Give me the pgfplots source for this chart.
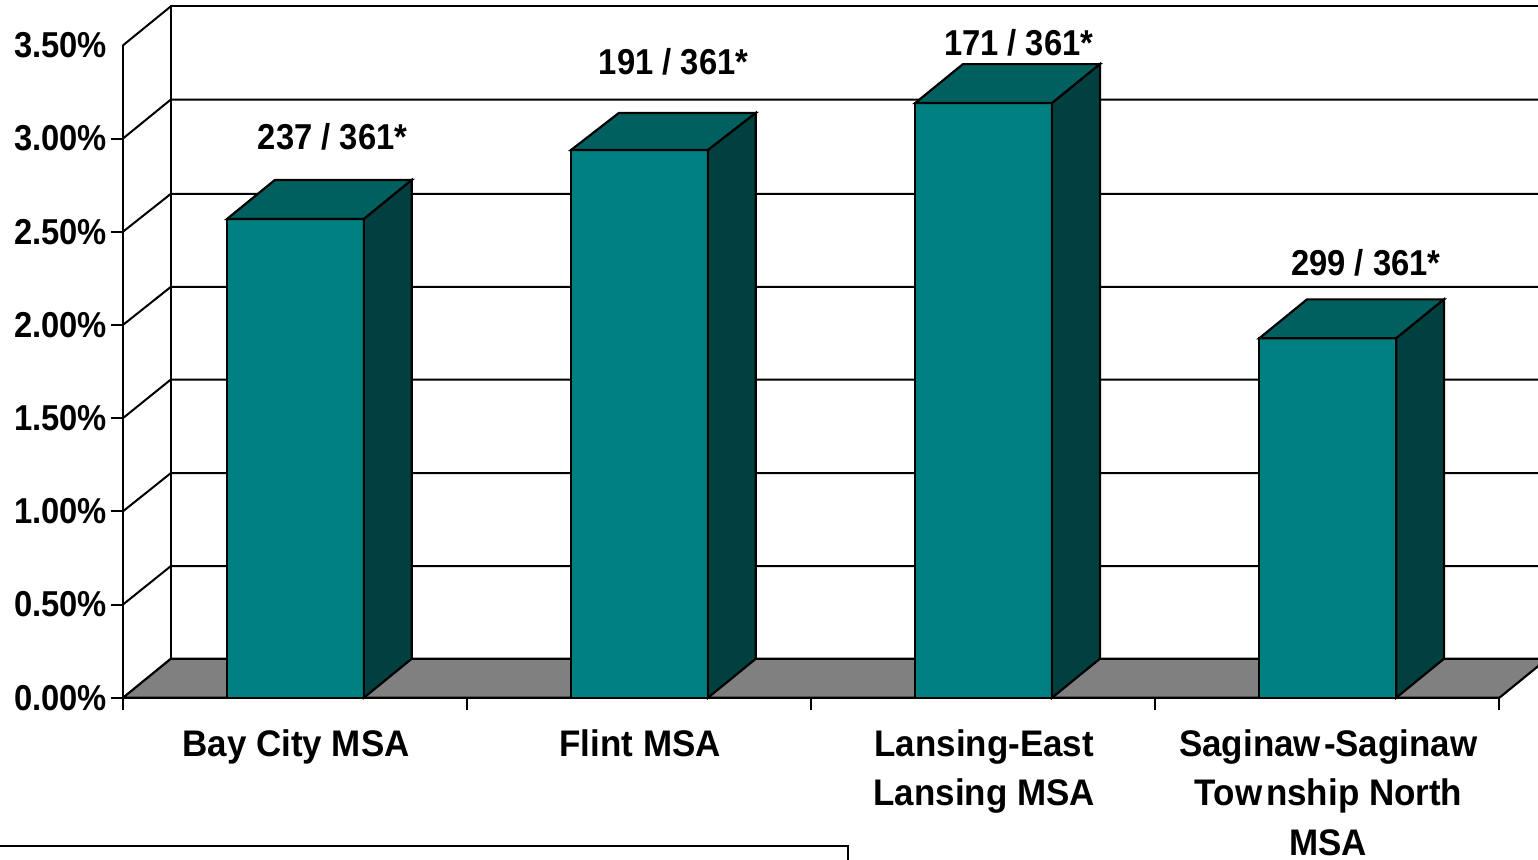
\documentclass[border=0pt]{standalone}
\usepackage{pgfplots}
\usepackage{fontspec}
\pgfplotsset{compat=1.18}
\setmainfont{Liberation Sans}
\newfontfamily\tickfont{Liberation Sans}[FakeStretch=0.91]
\newfontfamily\catfont{Liberation Sans}[FakeStretch=0.945]
\definecolor{barfront}{HTML}{008080}
\definecolor{bartop}{HTML}{006060}
\definecolor{barside}{HTML}{004040}
\definecolor{floorgray}{HTML}{808080}
\begin{document}
\begin{tikzpicture}[x=1pt,y=1pt]
\clip (0,0) rectangle (769,429.5);
\begin{axis}[
  at={(61.5pt,80.65pt)},
  anchor=south west,
  scale only axis,
  width=688.2pt,
  height=326.2pt,
  xmin=-0.5, xmax=3.5,
  ymin=0, ymax=3.5,
  clip=false,
  axis x line=bottom,
  axis y line=left,
  axis line style={-, black, line width=1pt},
  tick style={black, line width=1pt},
  tick align=outside,
  major tick length=6pt,
  minor tick length=6pt,
  xtick={0,1,2,3},
  xticklabels={Bay City MSA,Flint MSA,{Lansing-East\\Lansing MSA},{Saginaw\kern1.5pt-Saginaw\\To\kern0.6ptw\kern1.6ptnship North\\MSA}},
  minor xtick={-0.5,0.5,1.5,2.5,3.5},
  major x tick style={draw=none},
  x tick label style={font=\catfont\bfseries\fontsize{18.5}{24.7}\selectfont, align=center, anchor=north, yshift=-6.5pt, xshift=0.5pt},
  ytick={0,0.5,1,1.5,2,2.5,3},
  yticklabels={0.00\%,0.50\%,1.00\%,1.50\%,2.00\%,2.50\%,3.00\%},
  extra y ticks={3.5},
  extra y tick labels={3.50\%},
  extra y tick style={major tick length=0pt, y tick label style={xshift=-6pt}},
  y tick label style={font=\tickfont\bfseries\fontsize{18}{20}\selectfont, anchor=east, xshift=1.5pt},
  wall/.style={black, line width=1pt, no markers, forget plot},
  edge/.style={black, line width=1.1pt, no markers, forget plot},
]
% floor
\addplot[edge, fill=floorgray] coordinates {(-0.5,0) (-0.361,0.209) (3.639,0.209) (3.5,0)} -- cycle;
% side and back walls
\addplot[wall] coordinates {(-0.361,0.209) (-0.361,3.709) (3.639,3.709)};
\addplot[wall] coordinates {(-0.5,3.5) (-0.361,3.709)};
\addplot[wall] coordinates {(-0.5,3) (-0.361,3.209) (3.639,3.209)};
\addplot[wall] coordinates {(-0.5,2.5) (-0.361,2.703) (3.639,2.703)};
\addplot[wall] coordinates {(-0.5,2) (-0.361,2.204) (3.639,2.204)};
\addplot[wall] coordinates {(-0.5,1.5) (-0.361,1.707) (3.639,1.707)};
\addplot[wall] coordinates {(-0.5,1) (-0.361,1.205) (3.639,1.205)};
\addplot[wall] coordinates {(-0.5,0.5) (-0.361,0.706) (3.639,0.706)};
% bars, front faces
\addplot[ybar, bar width=68.5pt, bar shift=0.2pt, fill=barfront, draw=black, line width=1.1pt, forget plot]
  coordinates {(0,2.568) (1,2.938) (2,3.19) (3,1.928)};
% top faces
\addplot[edge, fill=bartop] coordinates {(-0.198,2.568) (0.2,2.568) (0.339,2.777) (-0.059,2.777)} -- cycle;
\addplot[edge, fill=bartop] coordinates {(0.802,2.938) (1.2,2.938) (1.339,3.137) (0.941,3.137)} -- cycle;
\addplot[edge, fill=bartop] coordinates {(1.802,3.19) (2.2,3.19) (2.339,3.399) (1.941,3.399)} -- cycle;
\addplot[edge, fill=bartop] coordinates {(2.802,1.928) (3.2,1.928) (3.339,2.137) (2.941,2.137)} -- cycle;
% side faces
\addplot[edge, fill=barside] coordinates {(0.2,0) (0.339,0.209) (0.339,2.777) (0.2,2.568)} -- cycle;
\addplot[edge, fill=barside] coordinates {(1.2,0) (1.339,0.209) (1.339,3.137) (1.2,2.938)} -- cycle;
\addplot[edge, fill=barside] coordinates {(2.2,0) (2.339,0.209) (2.339,3.399) (2.2,3.19)} -- cycle;
\addplot[edge, fill=barside] coordinates {(3.2,0) (3.339,0.209) (3.339,2.137) (3.2,1.928)} -- cycle;
% rank labels
\addplot[no markers, draw=none, forget plot, point meta=explicit symbolic, nodes near coords,
  every node near coord/.append style={font=\tickfont\bfseries\fontsize{18}{20}\selectfont, anchor=center, inner sep=0pt, text height=13pt, text depth=0pt}]
  coordinates {(0.109,3.012) [237 / 361*] (1.1,3.414) [191 / 361*] (2.103,3.517) [171 / 361*] (3.112,2.336) [299 / 361*]};
\end{axis}
% legend box cut off by the lower edge
\draw[black, line width=1pt] (-1,6.5) -- (424,6.5) -- (424,-1);
\end{tikzpicture}
\end{document}
